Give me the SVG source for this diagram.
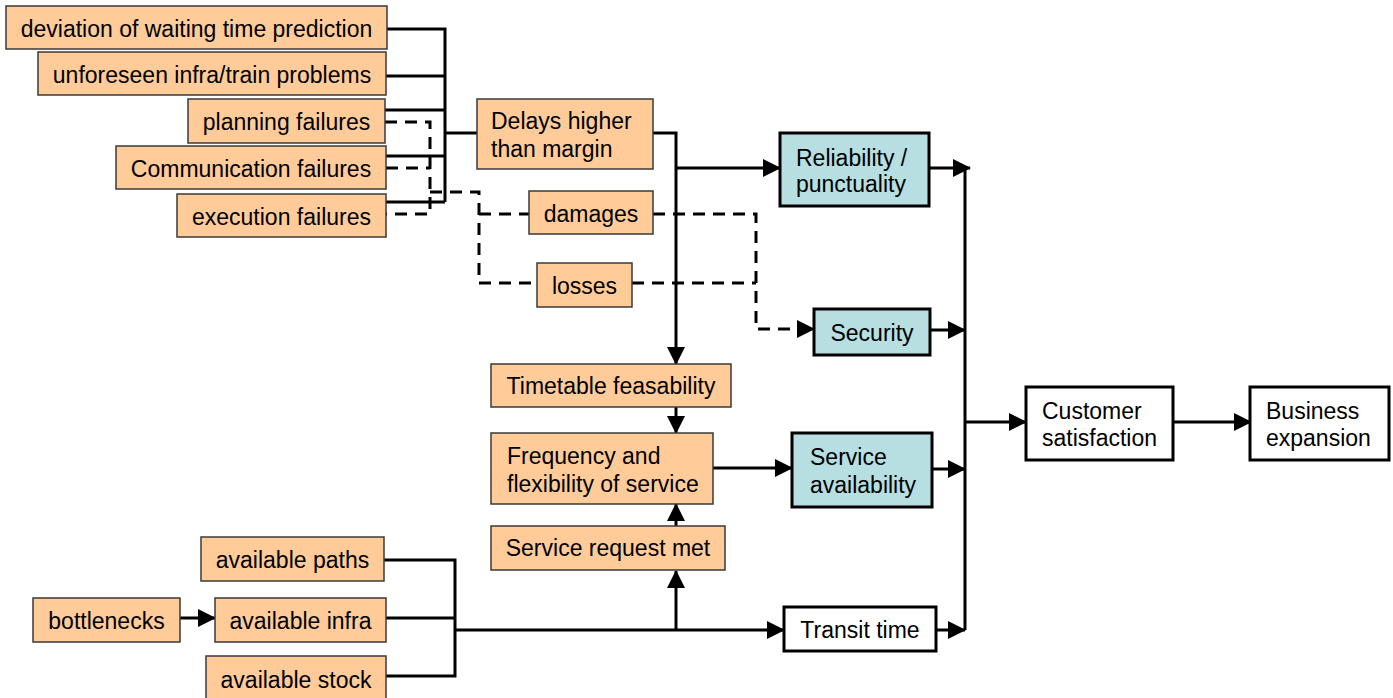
<svg xmlns="http://www.w3.org/2000/svg" width="1393" height="698" viewBox="0 0 1393 698">
<style>
.o{fill:#FFCC99;stroke:#3a3a3a;stroke-width:1.5}
.b{fill:#B7DEE0;stroke:#000;stroke-width:3}
.w{fill:#fff;stroke:#000;stroke-width:3}
text{font-family:"Liberation Sans",Arial,sans-serif;font-size:23px;fill:#000}
.c{text-anchor:middle}
.l{fill:none;stroke:#000;stroke-width:3}
.d{fill:none;stroke:#000;stroke-width:3;stroke-dasharray:12 8}
</style>
<defs>
<marker id="a" markerUnits="userSpaceOnUse" markerWidth="18" markerHeight="18" refX="17" refY="9" orient="auto">
<path d="M0,0 L18,9 L0,18 z" fill="#000"/>
</marker>
</defs>
<rect width="1393" height="698" fill="#fff"/>
<g id="connectors">
<path class="l" d="M387,29 H445 V202 M386,76 H445 M385,110 H445 M386,156 H445 M386,202 H445 M445,133 H477"/>
<path class="l" d="M653,133 H676 V364" marker-end="url(#a)"/>
<path class="l" d="M676,168 H780" marker-end="url(#a)"/>
<path class="l" d="M676,407 V433" marker-end="url(#a)"/>
<path class="l" d="M676,526 V504" marker-end="url(#a)"/>
<path class="l" d="M676,630 V571" marker-end="url(#a)"/>
<path class="l" d="M713,468 H792" marker-end="url(#a)"/>
<path class="l" d="M965,168 V630"/>
<path class="l" d="M930,168 H970" marker-end="url(#a)"/>
<path class="l" d="M930,330 H965" marker-end="url(#a)"/>
<path class="l" d="M932,469 H965" marker-end="url(#a)"/>
<path class="l" d="M936,630 H965" marker-end="url(#a)"/>
<path class="l" d="M965,422 H1026" marker-end="url(#a)"/>
<path class="l" d="M1173,422 H1251" marker-end="url(#a)"/>
<path class="l" d="M384,560 H455 V676 H386 M386,618 H455"/>
<path class="l" d="M455,630 H784" marker-end="url(#a)"/>
<path class="l" d="M180,618 H215" marker-end="url(#a)"/>
<path class="d" d="M385,122 H430 V214 H386 M386,168 H430 M430,192 H479 V283 H537 M479,214 H529 M632,283 H756"/>
<path class="d" d="M653,214 H756 V329 H814" marker-end="url(#a)"/>
</g>
<g id="n-deviation"><rect class="o" x="6" y="6" width="381" height="43"/><text class="c" x="196.5" y="37">deviation of waiting time prediction</text></g>
<g id="n-unforeseen"><rect class="o" x="38" y="52" width="348" height="43"/><text class="c" x="212" y="83">unforeseen infra/train problems</text></g>
<g id="n-planning"><rect class="o" x="188" y="99" width="197" height="44"/><text class="c" x="286.5" y="130">planning failures</text></g>
<g id="n-communication"><rect class="o" x="116" y="146" width="270" height="43"/><text class="c" x="251" y="177">Communication failures</text></g>
<g id="n-execution"><rect class="o" x="177" y="194" width="209" height="43"/><text class="c" x="281.5" y="225">execution failures</text></g>
<g id="n-delays"><rect class="o" x="477" y="99" width="176" height="70"/><text x="491" y="129">Delays higher</text><text x="491" y="157">than margin</text></g>
<g id="n-damages"><rect class="o" x="529" y="191" width="124" height="43"/><text class="c" x="591" y="222">damages</text></g>
<g id="n-losses"><rect class="o" x="537" y="263" width="95" height="44"/><text class="c" x="584.5" y="294">losses</text></g>
<g id="n-reliability"><rect class="b" x="780" y="133" width="149" height="73"/><text x="796" y="166">Reliability /</text><text x="796" y="192">punctuality</text></g>
<g id="n-security"><rect class="b" x="814" y="309" width="116" height="46"/><text class="c" x="872" y="341">Security</text></g>
<g id="n-timetable"><rect class="o" x="491" y="364" width="240" height="43"/><text class="c" x="611" y="394">Timetable feasability</text></g>
<g id="n-frequency"><rect class="o" x="491" y="433" width="222" height="71"/><text x="507" y="464">Frequency and</text><text x="507" y="492">flexibility of service</text></g>
<g id="n-availability"><rect class="b" x="792" y="433" width="140" height="74"/><text x="810" y="465">Service</text><text x="810" y="493">availability</text></g>
<g id="n-request"><rect class="o" x="491" y="526" width="234" height="44"/><text class="c" x="608" y="556">Service request met</text></g>
<g id="n-customer"><rect class="w" x="1026" y="387" width="147" height="73"/><text x="1042" y="419">Customer</text><text x="1042" y="446">satisfaction</text></g>
<g id="n-business"><rect class="w" x="1250" y="387" width="139" height="73"/><text x="1266" y="419">Business</text><text x="1266" y="446">expansion</text></g>
<g id="n-transit"><rect class="w" x="784" y="607" width="152" height="44"/><text class="c" x="860" y="638">Transit time</text></g>
<g id="n-paths"><rect class="o" x="201" y="537" width="183" height="44"/><text class="c" x="292.5" y="568">available paths</text></g>
<g id="n-bottlenecks"><rect class="o" x="33" y="598" width="147" height="44"/><text class="c" x="106.5" y="629">bottlenecks</text></g>
<g id="n-infra"><rect class="o" x="215" y="598" width="171" height="44"/><text class="c" x="300.5" y="629">available infra</text></g>
<g id="n-stock"><rect class="o" x="206" y="656" width="180" height="46"/><text class="c" x="296" y="688">available stock</text></g>
</svg>
